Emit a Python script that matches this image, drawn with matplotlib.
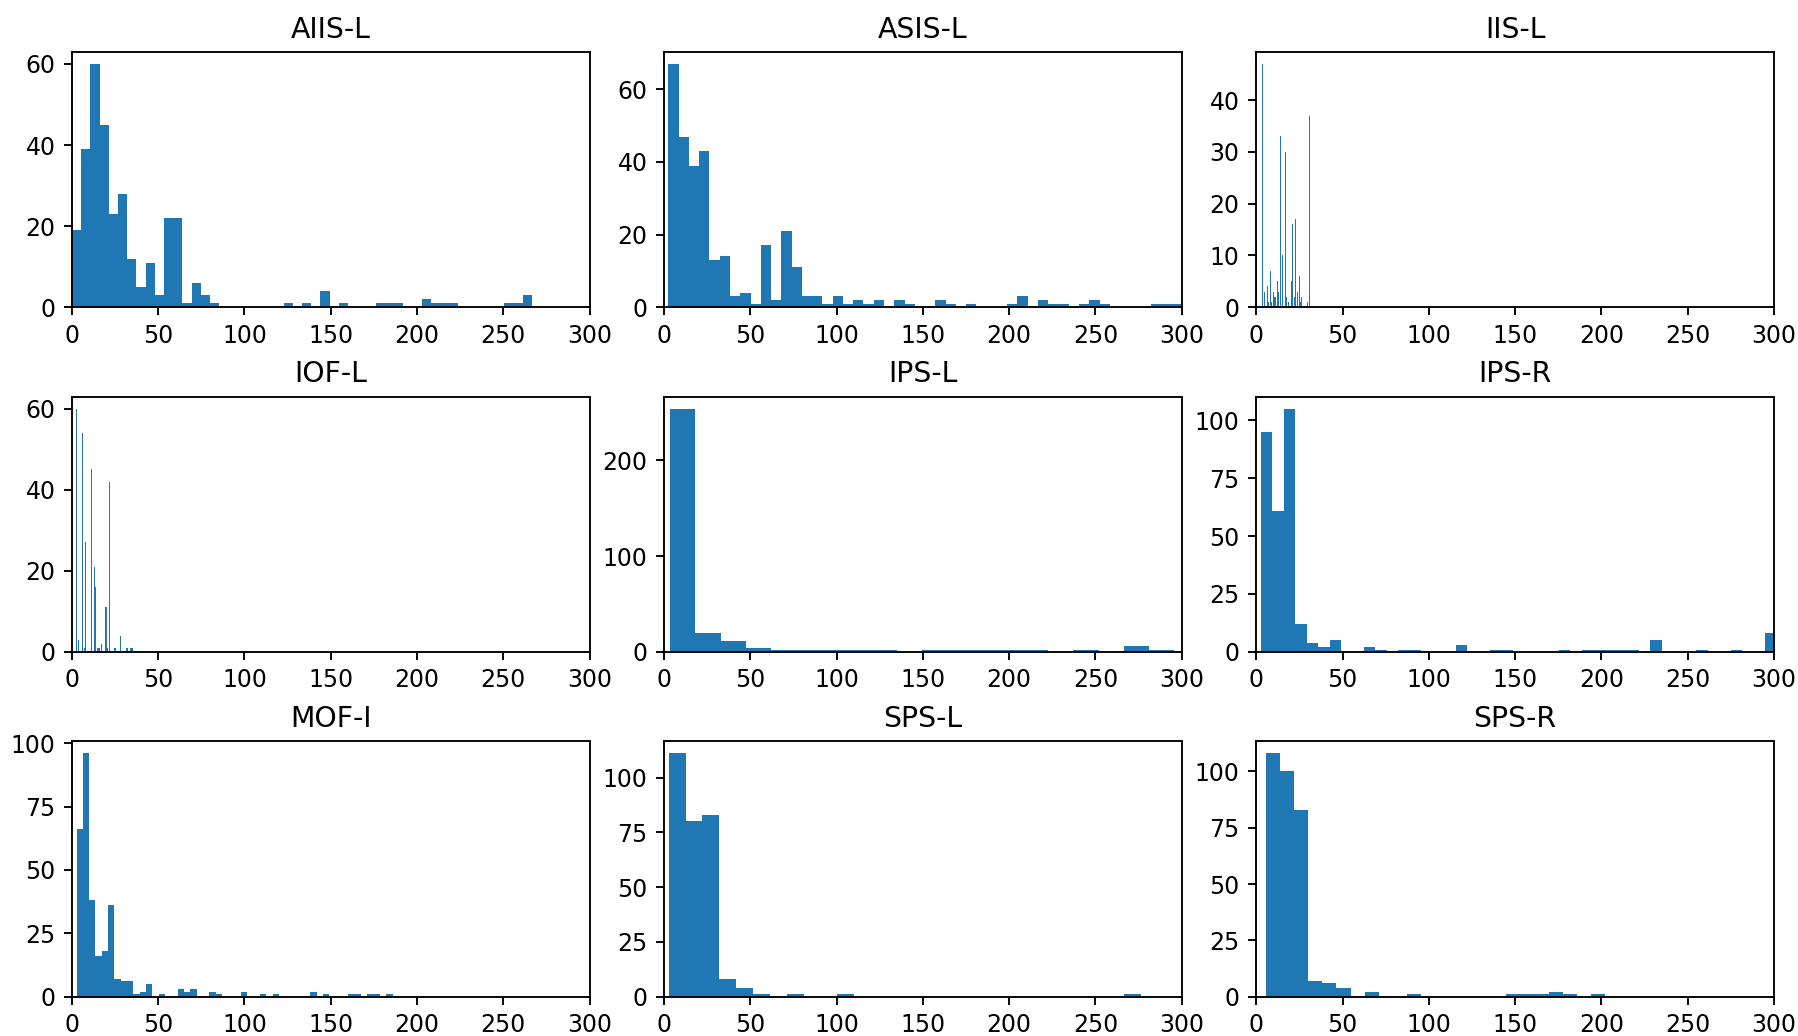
import numpy as np
import matplotlib
matplotlib.use("Agg")
import matplotlib.pyplot as plt

titles = ["AIIS-L", "ASIS-L", "IIS-L", "IOF-L", "IPS-L", "IPS-R", "MOF-I", "SPS-L", "SPS-R"]

# histogram ranges (first edge, last edge) and counts per bin
aiis_l_range = (0.0, 266.7)
aiis_l_counts = [19, 39, 60, 45, 23, 28, 12, 5, 11, 3, 22, 22, 1, 6, 3, 1,
                 0, 0, 0, 0, 0, 0, 0, 1, 0, 1, 0, 4, 0, 1,
                 0, 0, 0, 1, 1, 1, 0, 0, 2, 1, 1, 1, 0, 0, 0, 0, 0, 1, 1, 3]

asis_l_range = (2.5, 300.0)
asis_l_counts = [67, 47, 39, 43, 13, 14, 3, 4, 1, 17, 2, 21, 11, 3, 3,
                 1, 3, 1, 2, 1, 2, 0, 2, 1, 0, 0, 2, 1, 0, 1,
                 0, 0, 0, 1, 3, 0, 2, 1, 1, 0, 1, 2, 1, 0, 0, 0, 0, 1, 1, 1]

iis_l_range = (0.0, 31.0)
iis_l_counts = [13, 0, 0, 0, 0, 47, 0, 3, 0, 0, 4, 1, 0, 7, 1, 0, 3, 2, 0, 5,
                3, 0, 33, 0, 10, 0, 0, 30, 2, 0, 1, 0, 5, 16, 0, 2, 17, 0, 3, 0,
                6, 1, 2, 0, 0, 0, 0, 1, 0, 37]

iof_l_range = (2.3, 35.2)
iof_l_counts = [60, 0, 3, 0, 0, 54, 0, 1, 27, 0, 0, 0, 0, 45, 0, 0, 21, 16, 0, 1,
                1, 0, 2, 0, 0, 0, 11, 1, 0, 42, 0, 0, 0, 0, 1, 0, 0, 0, 0, 4,
                0, 0, 0, 0, 1, 1, 0, 0, 1, 1]

ips_l_range = (3.5, 295.6)
ips_l_counts = [254, 20, 11, 4, 2, 2, 2, 2, 2, 0, 2, 2, 2, 2, 2, 0, 2, 0, 6, 2]

ips_r_range = (2.65, 334.65)
ips_r_counts = [95, 61, 105, 12, 4, 2, 5, 0, 0, 2, 1, 0, 1, 1, 0, 0, 0, 3, 0, 0,
                1, 1, 0, 0, 0, 0, 1, 0, 1, 1, 1, 1, 1, 0, 5, 0, 0, 0, 1, 0,
                0, 1, 0, 0, 8, 0, 0, 0, 0, 1]

mof_i_range = (2.66, 185.9)
mof_i_counts = [66, 96, 38, 16, 18, 36, 7, 6, 6, 1, 2, 5, 0, 1, 0, 0, 3, 2, 3, 0,
                0, 2, 1, 0, 0, 0, 2, 0, 0, 1, 0, 1, 0, 0, 0, 0, 0, 2, 0, 1,
                0, 0, 0, 1, 1, 0, 1, 1, 0, 1]

sps_l_range = (2.65, 276.5)
sps_l_counts = [111, 80, 83, 8, 4, 1, 0, 1, 0, 0, 1, 0, 0, 0, 0, 0, 0, 0, 0, 0,
                0, 0, 0, 0, 0, 0, 0, 1]

sps_r_range = (5.5, 202.2)
sps_r_counts = [108, 100, 83, 7, 6, 4, 0, 2, 0, 0, 1, 0, 0, 0, 0, 0, 0, 1, 1, 1,
                2, 1, 0, 1]

ranges = [aiis_l_range, asis_l_range, iis_l_range, iof_l_range, ips_l_range,
          ips_r_range, mof_i_range, sps_l_range, sps_r_range]
counts = [aiis_l_counts, asis_l_counts, iis_l_counts, iof_l_counts, ips_l_counts,
          ips_r_counts, mof_i_counts, sps_l_counts, sps_r_counts]

DPI = 170
fig, axes = plt.subplots(3, 3, figsize=(1798 / DPI, 1036 / DPI), dpi=DPI)
fig.subplots_adjust(left=0.040, right=0.9866, top=0.950, bottom=0.038,
                    wspace=0.144, hspace=0.35)

for ax, title, rng, cnt in zip(axes.flat, titles, ranges, counts):
    cnt = np.asarray(cnt, dtype=float)
    edges = np.linspace(rng[0], rng[1], len(cnt) + 1)
    ax.hist(edges[:-1], bins=edges, weights=cnt, color="#1f77b4")
    ax.set_xlim(0, 300)
    ax.set_title(title)

fig.savefig("out.png", dpi=DPI)
